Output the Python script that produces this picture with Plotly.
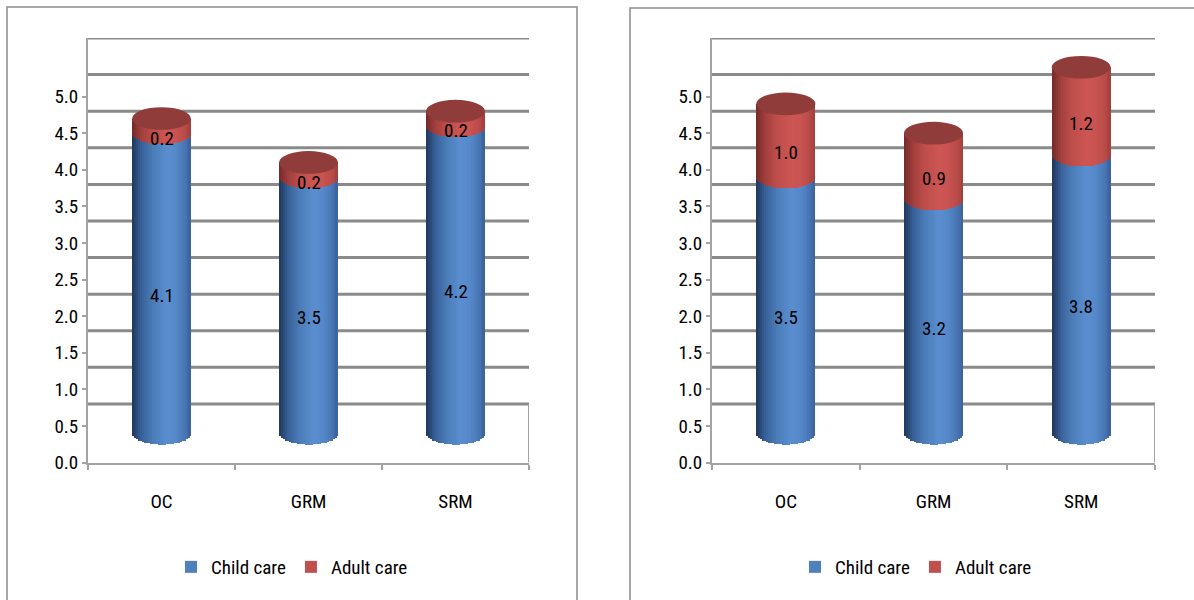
import numpy as np
import plotly.graph_objects as go

# ---------------- data ----------------
categories = ["OC", "GRM", "SRM"]
series_names = ["Child care", "Adult care"]
left_child = [4.1, 3.5, 4.2]
left_adult = [0.2, 0.2, 0.2]
right_child = [3.5, 3.2, 3.8]
right_adult = [1.0, 0.9, 1.2]
y_ticks = [0.0, 0.5, 1.0, 1.5, 2.0, 2.5, 3.0, 3.5, 4.0, 4.5, 5.0]
y_tick_labels = ["0.0", "0.5", "1.0", "1.5", "2.0", "2.5", "3.0", "3.5", "4.0", "4.5", "5.0"]

# ---------------- style / geometry constants ----------------
W, H = 1194, 600
FONT = "Liberation Sans Narrow, Arial Narrow, Roboto Condensed, sans-serif"
FS = 19
D = 0.4          # half depth of the 3D floor in value units
A = 0.2          # cylinder half width (category units)
B = 0.155        # ellipse half height (value units)
N = 30           # gradient strips per cylinder
LABEL_DROP = 0.17
GRID_COLOR = "#8a8a8a"
AXIS_COLOR = "#a3a3a3"

blue_stops = [(-1.0, (30, 55, 90)), (-0.7, (55, 95, 150)), (-0.3, (75, 125, 185)),
              (0.2, (90, 142, 208)), (0.5, (85, 136, 200)), (0.8, (72, 118, 180)),
              (1.0, (58, 98, 155))]
red_stops = [(-1.0, (115, 42, 42)), (-0.7, (160, 62, 60)), (-0.3, (190, 78, 75)),
             (0.2, (205, 86, 83)), (0.5, (200, 83, 80)), (0.8, (185, 75, 72)),
             (1.0, (160, 64, 62))]
CAP_COLOR = "#8f3c3a"
legend_colors = ["#4F81BD", "#C0504D"]


def grad(stops, u):
    for (u0, c0), (u1, c1) in zip(stops[:-1], stops[1:]):
        if u <= u1:
            t = (u - u0) / (u1 - u0)
            c = [round(c0[j] + t * (c1[j] - c0[j])) for j in range(3)]
            return "rgb(%d,%d,%d)" % tuple(c)
    return "rgb(%d,%d,%d)" % stops[-1][1]


x_domains = [[88 / W, 529 / W], [712 / W, 1155 / W]]
y_domain = [1 - 462.5 / H, 1 - 38 / H]
legend_x = [292 / W, 916 / W]

fig = go.Figure()
shapes = []
annotations = []

panels = [(left_child, left_adult), (right_child, right_adult)]
for p, (child, adult) in enumerate(panels):
    xa = "x" if p == 0 else "x2"
    ya = "y" if p == 0 else "y2"
    total = [c + a for c, a in zip(child, adult)]
    dw = 2 * A / N
    for seg in range(2):
        for k in range(N):
            u = -1 + (2 * k + 1) / N
            arc = B * np.sqrt(max(0.0, 1 - u * u))
            if seg == 0:
                bases = [0 - arc for _ in child]
                tops = [c - arc for c in child]
                col = grad(blue_stops, u)
            else:
                bases = [c - arc for c in child]
                tops = list(total)
                col = grad(red_stops, u)
            fig.add_trace(go.Bar(
                x=categories, y=[t - b for t, b in zip(tops, bases)], base=bases,
                offset=-A + k * dw, width=dw * (1.3 if k < N - 1 else 1.0),
                marker=dict(color=col, line=dict(width=0)),
                xaxis=xa, yaxis=ya, showlegend=False, hoverinfo="skip"))
    # legend entries
    for s, name in enumerate(series_names):
        fig.add_trace(go.Bar(x=[None], y=[None], name=name, xaxis=xa, yaxis=ya,
                             marker=dict(color=legend_colors[s], line=dict(width=0)),
                             legend="legend" if p == 0 else "legend2"))
    # caps
    for i, t in enumerate(total):
        shapes.append(dict(type="circle", xref=xa, yref=ya, x0=i - A, x1=i + A,
                           y0=t - B, y1=t + B, fillcolor=CAP_COLOR,
                           line=dict(width=0), layer="above"))
    # back wall gridlines
    for v in y_ticks:
        shapes.append(dict(type="line", xref=xa, yref=ya, x0=-0.5, x1=len(categories) - 0.5,
                           y0=v + D, y1=v + D, line=dict(color=GRID_COLOR, width=3),
                           layer="below"))
    # right floor edge
    shapes.append(dict(type="line", xref=xa, yref=ya, x0=len(categories) - 0.5,
                       x1=len(categories) - 0.5, y0=-D, y1=D,
                       line=dict(color=AXIS_COLOR, width=2), layer="below"))
    # data labels
    for i in range(len(categories)):
        for mid, val in [(child[i] / 2, child[i]), (child[i] + adult[i] / 2, adult[i])]:
            annotations.append(dict(x=categories[i], y=mid - LABEL_DROP, xref=xa, yref=ya,
                                    text="%.1f" % val, showarrow=False,
                                    font=dict(family=FONT, size=FS, color="#000000")))

# panel borders
shapes.append(dict(type="rect", xref="paper", yref="paper", x0=7 / W, x1=577 / W,
                   y0=-0.05, y1=1 - 7 / H, line=dict(color="#8c8c8c", width=1.5),
                   layer="below"))
shapes.append(dict(type="rect", xref="paper", yref="paper", x0=630 / W, x1=1.05,
                   y0=-0.05, y1=1 - 8 / H, line=dict(color="#8c8c8c", width=1.5),
                   layer="below"))

axis_common_y = dict(range=[-D, y_ticks[-1] + D], tickmode="array",
                     tickvals=[v - D for v in y_ticks], ticktext=y_tick_labels,
                     showline=True, linecolor=AXIS_COLOR, linewidth=2,
                     ticks="outside", ticklen=4, tickcolor=AXIS_COLOR, tickwidth=1.5,
                     showgrid=False, zeroline=False, fixedrange=True,
                     tickfont=dict(family=FONT, size=FS, color="#000000"),
                     domain=y_domain)
axis_common_x = dict(type="category", categoryorder="array", categoryarray=categories,
                     range=[-0.5, len(categories) - 0.5], showline=True,
                     linecolor=AXIS_COLOR, linewidth=2, ticks="outside",
                     tickson="boundaries", ticklen=5, tickcolor=AXIS_COLOR, tickwidth=1.5,
                     showgrid=False, zeroline=False, fixedrange=True,
                     ticklabelstandoff=21,
                     tickfont=dict(family=FONT, size=FS, color="#000000"))

legend_common = dict(orientation="h", yanchor="middle", xanchor="center", y=1 - 567 / H,
                     font=dict(family=FONT, size=FS, color="#000000"),
                     bgcolor="rgba(0,0,0,0)", itemwidth=30, tracegroupgap=0)

fig.update_layout(
    width=W, height=H, margin=dict(l=0, r=0, t=0, b=0, autoexpand=False),
    paper_bgcolor="white", plot_bgcolor="rgba(0,0,0,0)",
    barmode="overlay", bargap=0,
    xaxis=dict(axis_common_x, domain=x_domains[0], anchor="y"),
    yaxis=dict(axis_common_y, anchor="x"),
    xaxis2=dict(axis_common_x, domain=x_domains[1], anchor="y2"),
    yaxis2=dict(axis_common_y, anchor="x2"),
    legend=dict(legend_common, x=legend_x[0]),
    legend2=dict(legend_common, x=legend_x[1]),
    shapes=shapes, annotations=annotations,
    font=dict(family=FONT),
)

fig.write_html("out.html")
